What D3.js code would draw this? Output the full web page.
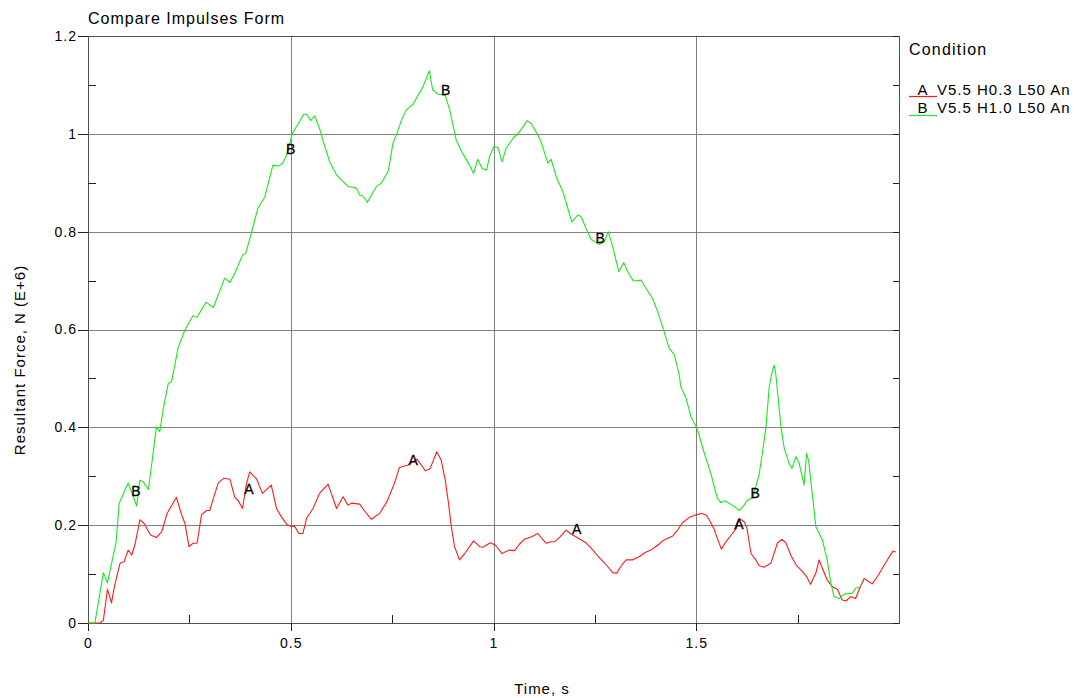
<!DOCTYPE html>
<html>
<head>
<meta charset="utf-8">
<script src="https://cdn.jsdelivr.net/npm/d3@7"></script>
<style>
  html, body { margin: 0; padding: 0; background: #fff; }
  svg { display: block; }
  text { font-family: "Liberation Sans", Arial, sans-serif; fill: #000; }
</style>
</head>
<body>
<svg id="chart" width="1075" height="698"></svg>
<script>
// Condition A: V5.5 H0.3 L50 An
const timeA = [0, 0.030, 0.038, 0.048, 0.058, 0.066, 0.079, 0.089, 0.099, 0.108, 0.116, 0.128, 0.138, 0.154, 0.169, 0.182, 0.195, 0.218, 0.231, 0.239, 0.249, 0.259, 0.269, 0.280, 0.292, 0.300, 0.321, 0.335, 0.350, 0.362, 0.370, 0.381, 0.391, 0.399, 0.416, 0.430, 0.452, 0.465, 0.477, 0.490, 0.499, 0.510, 0.520, 0.530, 0.539, 0.555, 0.571, 0.592, 0.613, 0.629, 0.641, 0.650, 0.670, 0.682, 0.699, 0.719, 0.736, 0.756, 0.768, 0.789, 0.811, 0.822, 0.832, 0.844, 0.860, 0.871, 0.881, 0.889, 0.896, 0.904, 0.916, 0.929, 0.951, 0.966, 0.974, 0.992, 1.005, 1.021, 1.039, 1.052, 1.064, 1.076, 1.093, 1.109, 1.117, 1.130, 1.142, 1.150, 1.163, 1.179, 1.191, 1.204, 1.216, 1.228, 1.241, 1.257, 1.269, 1.282, 1.294, 1.304, 1.315, 1.327, 1.343, 1.360, 1.374, 1.388, 1.405, 1.417, 1.442, 1.454, 1.466, 1.483, 1.499, 1.514, 1.524, 1.532, 1.544, 1.552, 1.562, 1.573, 1.589, 1.599, 1.606, 1.618, 1.625, 1.631, 1.635, 1.647, 1.655, 1.667, 1.684, 1.700, 1.711, 1.721, 1.733, 1.746, 1.762, 1.772, 1.782, 1.795, 1.803, 1.811, 1.823, 1.836, 1.848, 1.860, 1.869, 1.881, 1.893, 1.901, 1.914, 1.934, 1.947, 1.967, 1.985, 1.992];
const forceA = [0, 0, 0.006, 0.069, 0.041, 0.078, 0.122, 0.125, 0.149, 0.139, 0.161, 0.211, 0.204, 0.180, 0.175, 0.187, 0.224, 0.257, 0.221, 0.204, 0.156, 0.163, 0.163, 0.221, 0.230, 0.230, 0.286, 0.296, 0.294, 0.257, 0.251, 0.234, 0.286, 0.309, 0.294, 0.265, 0.282, 0.234, 0.217, 0.202, 0.198, 0.197, 0.183, 0.183, 0.214, 0.234, 0.265, 0.284, 0.234, 0.258, 0.241, 0.245, 0.243, 0.229, 0.212, 0.224, 0.246, 0.286, 0.318, 0.323, 0.335, 0.323, 0.311, 0.316, 0.350, 0.333, 0.292, 0.245, 0.197, 0.156, 0.129, 0.142, 0.168, 0.156, 0.155, 0.164, 0.159, 0.142, 0.149, 0.148, 0.161, 0.171, 0.176, 0.183, 0.175, 0.163, 0.166, 0.166, 0.175, 0.190, 0.182, 0.176, 0.170, 0.164, 0.153, 0.137, 0.127, 0.115, 0.103, 0.102, 0.117, 0.129, 0.129, 0.136, 0.144, 0.149, 0.159, 0.168, 0.178, 0.190, 0.205, 0.216, 0.221, 0.224, 0.221, 0.211, 0.192, 0.173, 0.151, 0.166, 0.183, 0.194, 0.214, 0.207, 0.194, 0.163, 0.142, 0.129, 0.117, 0.114, 0.122, 0.163, 0.171, 0.164, 0.139, 0.119, 0.105, 0.095, 0.079, 0.102, 0.129, 0.112, 0.088, 0.074, 0.069, 0.047, 0.045, 0.054, 0.050, 0.067, 0.091, 0.080, 0.095, 0.123, 0.147, 0.145];

// Condition B: V5.5 H1.0 L50 An
const timeB = [0, 0.017, 0.038, 0.048, 0.069, 0.077, 0.099, 0.112, 0.120, 0.128, 0.136, 0.149, 0.169, 0.177, 0.185, 0.198, 0.206, 0.218, 0.222, 0.239, 0.259, 0.269, 0.291, 0.309, 0.337, 0.350, 0.362, 0.381, 0.389, 0.403, 0.419, 0.436, 0.456, 0.469, 0.480, 0.489, 0.496, 0.504, 0.518, 0.532, 0.539, 0.549, 0.559, 0.571, 0.584, 0.596, 0.613, 0.633, 0.641, 0.662, 0.670, 0.678, 0.689, 0.699, 0.711, 0.723, 0.740, 0.746, 0.752, 0.762, 0.773, 0.785, 0.801, 0.826, 0.842, 0.850, 0.863, 0.881, 0.892, 0.908, 0.924, 0.941, 0.951, 0.961, 0.972, 0.983, 0.990, 1.001, 1.011, 1.021, 1.031, 1.048, 1.064, 1.083, 1.093, 1.105, 1.116, 1.134, 1.142, 1.156, 1.171, 1.181, 1.193, 1.208, 1.216, 1.228, 1.241, 1.261, 1.273, 1.283, 1.294, 1.309, 1.321, 1.333, 1.345, 1.364, 1.376, 1.392, 1.405, 1.417, 1.433, 1.446, 1.458, 1.462, 1.475, 1.487, 1.503, 1.520, 1.536, 1.552, 1.561, 1.571, 1.589, 1.606, 1.618, 1.626, 1.639, 1.655, 1.663, 1.672, 1.680, 1.686, 1.692, 1.696, 1.709, 1.717, 1.729, 1.736, 1.746, 1.754, 1.766, 1.772, 1.777, 1.786, 1.795, 1.811, 1.823, 1.832, 1.840, 1.852, 1.865, 1.885, 1.893, 1.906];
const forceB = [0, 0, 0.103, 0.082, 0.164, 0.245, 0.286, 0.258, 0.239, 0.292, 0.289, 0.273, 0.401, 0.391, 0.435, 0.490, 0.493, 0.544, 0.562, 0.599, 0.628, 0.625, 0.656, 0.645, 0.705, 0.696, 0.715, 0.752, 0.756, 0.797, 0.848, 0.871, 0.936, 0.934, 0.940, 0.955, 0.975, 1.001, 1.020, 1.040, 1.040, 1.027, 1.037, 1.011, 0.974, 0.943, 0.916, 0.899, 0.893, 0.889, 0.875, 0.873, 0.860, 0.875, 0.892, 0.899, 0.923, 0.950, 0.981, 1.001, 1.028, 1.049, 1.060, 1.096, 1.129, 1.090, 1.081, 1.079, 1.049, 0.987, 0.960, 0.936, 0.919, 0.948, 0.929, 0.926, 0.953, 0.974, 0.972, 0.943, 0.970, 0.991, 1.004, 1.027, 1.021, 1.004, 0.987, 0.940, 0.948, 0.909, 0.882, 0.854, 0.820, 0.834, 0.831, 0.807, 0.784, 0.774, 0.779, 0.800, 0.769, 0.718, 0.737, 0.715, 0.699, 0.701, 0.684, 0.664, 0.636, 0.606, 0.562, 0.548, 0.507, 0.483, 0.459, 0.422, 0.395, 0.347, 0.306, 0.255, 0.246, 0.250, 0.241, 0.230, 0.241, 0.251, 0.256, 0.303, 0.347, 0.401, 0.483, 0.510, 0.527, 0.510, 0.401, 0.357, 0.326, 0.316, 0.340, 0.326, 0.282, 0.347, 0.333, 0.265, 0.197, 0.170, 0.129, 0.081, 0.054, 0.050, 0.059, 0.061, 0.071, 0.074];

// Curve identifier letters: anchor time (s) and force (N E+6)
const markTimesA = [0.397, 0.802, 1.205, 1.605];
const markForcesA = [0.274, 0.333, 0.192, 0.202];
const markTimesB = [0.118, 0.500, 0.882, 1.263, 1.645];
const markForcesB = [0.270, 0.969, 1.090, 0.788, 0.265];

const xTicks = [0, 0.5, 1, 1.5];
const xMinorTicks = [0.25, 0.75, 1.25, 1.75];
const yTicks = [0, 0.2, 0.4, 0.6, 0.8, 1, 1.2];
const yMinorTicks = [0.1, 0.3, 0.5, 0.7, 0.9, 1.1];

const legendCodes = ["A", "B"];
const legendNames = ["V5.5 H0.3 L50 An", "V5.5 H1.0 L50 An"];
const seriesColors = ["#ff1a1a", "#1ee61e"];

const svg = d3.select("#chart");
const plotLeft = 88, plotRight = 899, plotTop = 36, plotBottom = 623;

const x = d3.scaleLinear().domain([0, 2]).range([plotLeft, plotRight]);
const y = d3.scaleLinear().domain([0, 1.2]).range([plotBottom, plotTop]);

// grid
const grid = svg.append("g").attr("stroke", "#808080").attr("stroke-width", 1).attr("shape-rendering", "crispEdges");
grid.selectAll(".gx").data(xTicks.concat([2])).join("line")
  .attr("x1", d => Math.round(x(d)) + 0.5).attr("x2", d => Math.round(x(d)) + 0.5)
  .attr("y1", plotTop).attr("y2", plotBottom);
grid.selectAll(".gy").data(yTicks).join("line")
  .attr("x1", plotLeft).attr("x2", plotRight)
  .attr("y1", d => Math.round(y(d)) + 0.5).attr("y2", d => Math.round(y(d)) + 0.5);

// frame
svg.append("rect")
  .attr("x", plotLeft + 0.5).attr("y", plotTop + 0.5)
  .attr("width", plotRight - plotLeft).attr("height", plotBottom - plotTop)
  .attr("fill", "none").attr("stroke", "#505050").attr("shape-rendering", "crispEdges");

function styleAxis(g) {
  g.select(".domain").remove();
  g.selectAll(".tick line").attr("stroke", "#222").attr("shape-rendering", "crispEdges");
  g.selectAll(".tick text")
    .style("font-family", '"Liberation Sans", Arial, sans-serif')
    .style("font-size", "14px")
    .style("letter-spacing", "1px")
    .attr("fill", "#000");
}

// y axis: major ticks outward with labels
svg.append("g").attr("transform", `translate(${plotLeft},0)`)
  .call(d3.axisLeft(y).tickValues(yTicks).tickSize(10).tickPadding(1).tickFormat(d => String(d)))
  .call(styleAxis);
// y minor ticks inward
svg.append("g").attr("transform", `translate(${plotLeft},0)`)
  .call(d3.axisRight(y).tickValues(yMinorTicks).tickSize(8).tickFormat(""))
  .call(styleAxis);
// right edge ticks inward
svg.append("g").attr("transform", `translate(${plotRight},0)`)
  .call(d3.axisLeft(y).tickValues(yTicks.concat(yMinorTicks)).tickSize(6).tickFormat(""))
  .call(styleAxis);

// x axis
svg.append("g").attr("transform", `translate(0,${plotBottom})`)
  .call(d3.axisBottom(x).tickValues(xTicks).tickSize(8).tickPadding(7).tickFormat(d => String(d)))
  .call(styleAxis);
svg.append("g").attr("transform", `translate(0,${plotBottom})`)
  .call(d3.axisTop(x).tickValues(xMinorTicks).tickSize(8).tickFormat(""))
  .call(styleAxis);

// series
const series = [
  { t: timeA, f: forceA, color: seriesColors[0], mt: markTimesA, mf: markForcesA, code: "A" },
  { t: timeB, f: forceB, color: seriesColors[1], mt: markTimesB, mf: markForcesB, code: "B" }
];

const plot = svg.append("g");
series.forEach(s => {
  const pts = s.t.map((t, i) => [t, s.f[i]]);
  plot.append("path")
    .datum(pts)
    .attr("fill", "none")
    .attr("stroke", s.color)
    .attr("stroke-width", 1.1)
    .attr("stroke-linejoin", "round")
    .attr("d", d3.line().x(d => x(d[0])).y(d => y(d[1])));
});

// identifier letters on the curves
series.forEach(s => {
  plot.selectAll(null).data(s.mt.map((t, i) => [t, s.mf[i]])).join("text")
    .attr("x", d => x(d[0]))
    .attr("y", d => y(d[1]))
    .attr("dy", "0.36em")
    .attr("text-anchor", "middle")
    .style("font-size", "14px")
    .style("stroke", "#000").style("stroke-width", "0.3px")
    .text(s.code);
});

// title
svg.append("text").attr("x", 88).attr("y", 24)
  .style("font-size", "16px").style("letter-spacing", "1px")
  .text("Compare Impulses Form");

// axis titles
svg.append("text").attr("x", 542).attr("y", 694)
  .attr("text-anchor", "middle")
  .style("font-size", "15px").style("letter-spacing", "1px")
  .text("Time, s");
svg.append("text")
  .attr("transform", "translate(25,360) rotate(-90)")
  .attr("text-anchor", "middle")
  .style("font-size", "15px").style("letter-spacing", "1px")
  .text("Resultant Force, N (E+6)");

// legend
const legend = svg.append("g");
legend.append("text").attr("x", 909).attr("y", 55)
  .style("font-size", "16px").style("letter-spacing", "1.2px")
  .text("Condition");
const legendBaselines = [95, 112.5];
const legendLineY = [96.5, 115.5];
legendCodes.forEach((code, i) => {
  legend.append("line")
    .attr("x1", 909).attr("x2", 937)
    .attr("y1", legendLineY[i]).attr("y2", legendLineY[i])
    .attr("stroke", seriesColors[i]).attr("stroke-width", 1.2);
  legend.append("text").attr("x", 922.5).attr("y", legendBaselines[i])
    .attr("text-anchor", "middle")
    .style("font-size", "15px")
    .text(code);
  legend.append("text").attr("x", 937).attr("y", legendBaselines[i])
    .style("font-size", "15px").style("letter-spacing", "1px")
    .text(legendNames[i]);
});
</script>
</body>
</html>
